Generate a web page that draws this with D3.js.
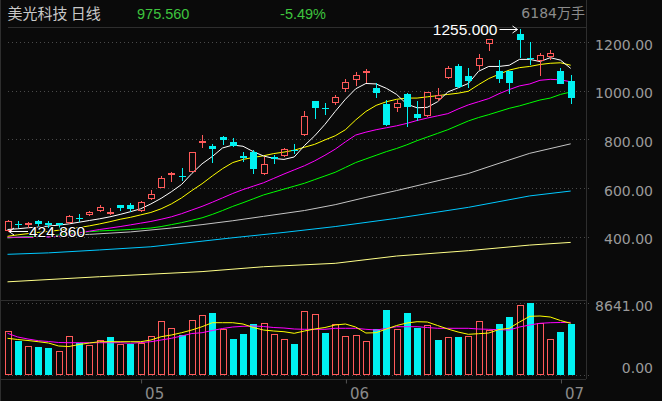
<!DOCTYPE html>
<html lang="zh">
<head>
<meta charset="UTF-8">
<title>美光科技 日线</title>
<style>
  body { margin: 0; background: #0a0a0a; overflow: hidden; }
  svg { display: block; background: #0a0a0a; }
  .axis text { font-family: "DejaVu Sans", sans-serif; font-size: 14px; fill: #9a9a9a; }
  .axis .domain { display: none; }
</style>
</head>
<body>
<svg id="chart" width="662" height="401"></svg>
<script src="https://cdn.jsdelivr.net/npm/d3@7"></script>
<script>
// header
const stockName = '美光科技 日线';
const lastPrice = '975.560';
const changePct = '-5.49%';
const lastVolume = '6184万手';

// daily candles, 56 sessions (mid April .. 2 July)
const opens  = [428,453,452,465,457,455,460,478,492,509,499,530,532,510,558,606,659,651,671,791,773,812,790,731,750,663,727,735,757,821,958,930,955,1010,1048,1079,1010,945,932,986,904,900,969,1055,1101,1060,1107,1195,1082,1082,1233,1135,1126,1144,1081,1040];
const highs  = [468,465,462,469,465,458,491,492,505,532,517,532,538,547,592,650,665,681,749,817,781,813,808,750,756,726,736,766,781,917,960,951,984,1047,1078,1088,1033,962,962,992,959,996,1010,1101,1110,1092,1152,1213,1126,1082,1255,1201,1154,1167,1095,1064];
const lows   = [424.86,440,441,448,440,436,458,466,490,507,492,510,507,508,556,604,630,633,669,770,708,781,775,713,663,658,702,733,743,819,889,904,944,999,1023,1037,973,861,918,855,880,896,962,1053,1017,1016,1090,1167,1037,992,1140,1112,1064,1129,1030,951];
const closes = [466,452,458,455,451,453,485,476,500,522,501,523,519,541,576,640,664,649,747,795,765,803,777,729,684,699,725,759,755,896,932,928,975,1037,1064,1081,996,863,948,937,891,996,982,1092,1019,1044,1134,1212,1051,1037,1212,1133,1147,1155,1032.3,975.56];
const volumes = [5288,4114,3473,3388,3267,2868,4683,3799,3594,4199,4598,3678,3678,3872,4683,6498,5614,4804,6619,7224,7502,5530,4320,4925,6135,6219,4925,4283,3715,7708,7345,5082,6098,4683,4804,4078,5530,7829,5530,7466,5614,6014,4199,4525,4562,4683,6498,5409,6135,7018,8434,8641,6219,4283,5167,6184];

// moving averages
const ma5  = [430,433,437,440,444,448,453,460,467,474,482,492,503,515,535,558,585,615,660,700,730,765,777,772,750,732,722,718,728,775,815,862,915,965,1008,1030,1028,1010,985,945,930,932,955,995,1012,1030,1080,1100,1100,1105,1129,1129,1120,1136,1126,1092];
const ma10 = [402,408,413,418,422,427,432,438,445,453,462,472,480,490,500,515,535,560,590,618,650,680,705,718,726,733,742,748,756,768,780,798,815,840,880,915,940,955,965,970,970,975,980,985,990,998,1025,1050,1068,1085,1095,1100,1108,1113,1115,1105];
const ma20 = [398,398,398,398,399,400,408,416,423,430,436,442,449,456,463,472,482,495,510,525,542,560,578,594,608,622,640,658,675,692,712,735,760,790,818,830,840,848,856,866,878,888,897,906,925,942,955,968,988,1005,1020,1028,1043,1047,1045,1037];
const ma30 = [396,398,400,403,406,409,413,418,421,424,426,428,430,433,436,442,450,458,468,478,492,508,525,540,556,572,584,596,608,620,635,650,665,685,705,720,735,750,763,778,795,810,825,840,858,876,890,902,915,928,938,950,962,970,985,995];
const ma60Idx  = [0,8,12,16,19,22,25,29,32,35,38,41,45,48,51,55];
const ma60     = [396,410,420,436,450,466,484,508,532,562,590,620,660,702,743,782];
const ma120Idx = [0,4,9,14,19,22,27,32,38,45,51,55];
const ma120    = [328,334,346,359,382,396,418,442,476,521,568,588];
const ma250Idx = [0,9,19,25,32,38,45,51,55];
const ma250    = [215,236,257,277,291,321,343,366,377];
const volMa5  = [4404,4259,4138,3993,3836,3473,3412,3654,3836,3993,3993,3993,3993,3993,4199,4598,4804,5082,5409,5808,6292,6292,6292,6135,5711,5409,5288,5203,5009,5288,5530,5711,6014,6135,5772,5046,5082,5530,5953,6256,6413,6377,5953,5530,5167,4888,4961,5046,5469,5614,6377,7066,7103,6982,6558,6219];
const volMa10 = [5009,4562,4320,4114,4017,3896,3872,3872,3872,3872,3872,3872,3799,3896,3993,4199,4404,4683,4985,5082,5348,5590,5772,5856,5893,5832,5711,5651,5530,5493,5493,5493,5614,5614,5614,5493,5409,5590,5808,5808,5808,5711,5614,5614,5614,5614,5530,5493,5445,5409,5772,6014,6219,6292,6316,6340];

const priceTicks = [400, 600, 800, 1000, 1200];
const volTicks = [0, 8641];
const monthStart = [13, 33, 54];
const monthLabels = ['05', '06', '07'];

const RED = '#ff5a5a', CYAN = '#00f2f2', GRID = '#4a4a4a', LINE = '#2e2e2e';

const svg = d3.select('#chart');
const n = closes.length;
const idx = d3.range(n);

const x = d3.scaleLinear().domain([0, n - 1]).range([7.5, 570.7]);
const y = d3.scaleLinear().domain([400, 1200]).range([236.8, 42.1]);
const yv = d3.scaleLinear().domain([0, 8641]).range([374.7, 303.3]);
const cx = i => Math.round(x(i)) + 0.5;

// frame lines
const frame = svg.append('g').attr('stroke', LINE).attr('shape-rendering', 'crispEdges');
frame.append('line').attr('x1', 0.5).attr('x2', 0.5).attr('y1', 0).attr('y2', 401);
frame.append('line').attr('x1', 586.5).attr('x2', 586.5).attr('y1', 0).attr('y2', 379);
frame.append('line').attr('x1', 8).attr('x2', 586).attr('y1', 27.5).attr('y2', 27.5);
frame.append('line').attr('x1', 0).attr('x2', 586).attr('y1', 300.5).attr('y2', 300.5);
frame.append('line').attr('x1', 0).attr('x2', 586).attr('y1', 379.5).attr('y2', 379.5);

// dotted grid
const grid = svg.append('g').attr('stroke', GRID).attr('stroke-dasharray', '1,3').attr('shape-rendering', 'crispEdges');
grid.selectAll('.pg').data(priceTicks).join('line')
  .attr('x1', 8).attr('x2', 589)
  .attr('y1', d => Math.round(y(d)) + 0.5).attr('y2', d => Math.round(y(d)) + 0.5);
grid.selectAll('.vg').data(volTicks).join('line')
  .attr('x1', 8).attr('x2', 589)
  .attr('y1', d => Math.round(yv(d)) + 0.5).attr('y2', d => Math.round(yv(d)) + 0.5);

// price axis (right)
const pa = svg.append('g').attr('class', 'axis').attr('transform', 'translate(653,0)')
  .call(d3.axisRight(y).tickValues(priceTicks).tickFormat(d3.format('.2f')).tickSize(0));
pa.selectAll('text').attr('x', 0).attr('dy', 0).attr('y', 7).attr('text-anchor', 'end');

const va = svg.append('g').attr('class', 'axis').attr('transform', 'translate(653,0)')
  .call(d3.axisRight(yv).tickValues(volTicks).tickFormat(d3.format('.2f')).tickSize(0));
va.selectAll('text').attr('x', 0).attr('dy', 0).attr('text-anchor', 'end')
  .attr('y', d => d === 0 ? -2 : 6.7);

// month axis
const ma = svg.append('g').attr('class', 'axis').attr('transform', 'translate(0,379.5)')
  .call(d3.axisBottom(x).tickValues(monthStart).tickFormat((d, k) => monthLabels[k]).tickSize(4));
ma.selectAll('line').attr('stroke', '#555').attr('transform', 'translate(0.5,0)');
ma.selectAll('text').attr('text-anchor', 'start').attr('x', 4).attr('y', 19).attr('dy', 0)
  .style('font-size', '15px').style('fill', '#8a8a8a');

// moving average lines
const lineOf = (vals, ids, sc) => d3.line().x((d, k) => x(ids ? ids[k] : k)).y(d => sc(d))(vals);
const maGroup = svg.append('g').attr('fill', 'none').attr('stroke-width', 1);
[[ma250, ma250Idx, '#ffff88'], [ma120, ma120Idx, '#00c8ff'], [ma60, ma60Idx, '#c4c4c4'],
 [ma30, null, '#00ff00'], [ma20, null, '#ff00ff'], [ma10, null, '#ffff00'], [ma5, null, '#ffffff']]
  .forEach(([vals, ids, col]) => maGroup.append('path').attr('d', lineOf(vals, ids, y)).attr('stroke', col));

// candles
const up = i => closes[i] >= opens[i];
const cg = svg.append('g').attr('shape-rendering', 'crispEdges');
idx.forEach(i => {
  const c = cx(i);
  const top = Math.round(y(Math.max(opens[i], closes[i])));
  const bot = Math.round(y(Math.min(opens[i], closes[i])));
  const hi = Math.round(y(highs[i])), lo = Math.round(y(lows[i]));
  if (up(i)) {
    if (hi < top) cg.append('line').attr('x1', c).attr('x2', c).attr('y1', hi).attr('y2', top).attr('stroke', RED);
    if (lo > bot) cg.append('line').attr('x1', c).attr('x2', c).attr('y1', bot + 1).attr('y2', lo + 1).attr('stroke', RED);
    if (bot - top < 1) {
      cg.append('line').attr('x1', c - 3.5).attr('x2', c + 3.5).attr('y1', top + 0.5).attr('y2', top + 0.5).attr('stroke', RED);
    } else {
      cg.append('rect').attr('x', c - 3).attr('y', top + 0.5).attr('width', 6).attr('height', bot - top)
        .attr('fill', 'none').attr('stroke', RED);
    }
  } else {
    cg.append('line').attr('x1', c).attr('x2', c).attr('y1', hi).attr('y2', lo + 1).attr('stroke', CYAN);
    cg.append('rect').attr('x', c - 3.5).attr('y', top).attr('width', 7).attr('height', Math.max(1, bot - top + 1))
      .attr('fill', CYAN);
  }
});

// volume bars: colour by close versus previous close
const volUp = i => i === 0 ? closes[0] >= opens[0] : closes[i] >= closes[i - 1];
const vg = svg.append('g').attr('shape-rendering', 'crispEdges');
idx.forEach(i => {
  const c = cx(i);
  const t = Math.round(yv(volumes[i]));
  if (volUp(i)) {
    vg.append('rect').attr('x', c - 3).attr('y', t + 0.5).attr('width', 6).attr('height', 374 - t)
      .attr('fill', 'none').attr('stroke', RED);
  } else {
    vg.append('rect').attr('x', c - 3.5).attr('y', t).attr('width', 7).attr('height', 375 - t).attr('fill', CYAN);
  }
});
const vmg = svg.append('g').attr('fill', 'none').attr('stroke-width', 1);
vmg.append('path').attr('d', lineOf(volMa10, null, yv)).attr('stroke', '#ff00ff');
vmg.append('path').attr('d', lineOf(volMa5, null, yv)).attr('stroke', '#ffff00');

// highest / lowest markers
const hiIdx = d3.maxIndex(highs), loIdx = d3.minIndex(lows);
const hx = cx(hiIdx) - 3, hy = Math.round(y(highs[hiIdx])) + 0.5;
const mk = svg.append('g').attr('fill', 'none').attr('stroke', '#fff').attr('stroke-width', 1);
mk.append('path').attr('d', `M${hx - 18},${hy}H${hx}M${hx - 5},${hy - 3.5}L${hx},${hy}L${hx - 5},${hy + 3.5}`);
svg.append('text').attr('x', hx - 20).attr('y', hy + 5.5).attr('text-anchor', 'end')
  .style('font-family', '"Liberation Sans", Arial, sans-serif').style('font-size', '15.5px').attr('fill', '#fff')
  .text(d3.format('.3f')(highs[hiIdx]));

const lx = cx(loIdx) + 0.5, ly = Math.round(y(lows[loIdx])) + 0.5;
mk.append('path').attr('d', `M${lx},${ly}H${lx + 19}M${lx + 5},${ly - 3.5}L${lx},${ly}L${lx + 5},${ly + 3.5}`);
svg.append('text').attr('x', lx + 20).attr('y', ly + 5)
  .style('font-family', '"Liberation Sans", Arial, sans-serif').style('font-size', '15.5px')
  .attr('fill', '#fff').attr('stroke', '#000').attr('stroke-width', 2).attr('paint-order', 'stroke')
  .text(d3.format('.3f')(lows[loIdx]));

// header
const head = svg.append('g');
head.append('text').attr('x', 7.5).attr('y', 18.5).text(stockName)
  .style('font-family', '"Noto Sans CJK SC", sans-serif').style('font-size', '15px').attr('fill', '#c8c8c8');
head.append('text').attr('x', 137).attr('y', 18.5).text(lastPrice)
  .style('font-family', '"Liberation Sans", Arial, sans-serif').style('font-size', '14.5px').attr('fill', '#3ec43e');
head.append('text').attr('x', 326).attr('y', 18.5).attr('text-anchor', 'end').text(changePct)
  .style('font-family', '"Liberation Sans", Arial, sans-serif').style('font-size', '14.5px').attr('fill', '#3ec43e');
head.append('text').attr('x', 585).attr('y', 18).attr('text-anchor', 'end').text(lastVolume)
  .style('font-family', '"DejaVu Sans", "Noto Sans CJK SC", sans-serif').style('font-size', '14px').attr('fill', '#8c8c8c');
</script>
</body>
</html>
